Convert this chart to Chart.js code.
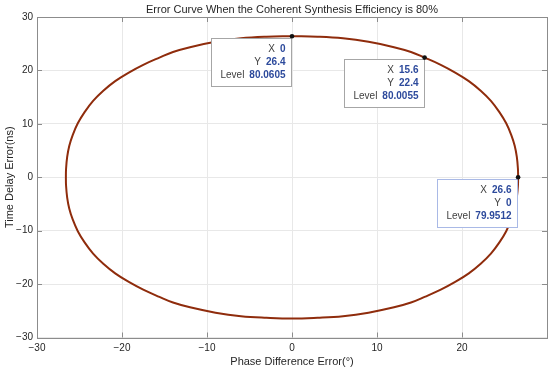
<!DOCTYPE html>
<html>
<head>
<meta charset="utf-8">
<script src="https://cdn.jsdelivr.net/npm/chart.js@4.4.1/dist/chart.umd.min.js"></script>
<style>
  html, body { margin: 0; padding: 0; background: #fff; }
  #wrap { width: 550px; height: 369px; }
</style>
</head>
<body>
<div id="wrap"><canvas id="errChart"></canvas></div>
<script>
// contour of the 80% level (clockwise from the top)
const phaseErr = [0, 3, 6, 9, 12, 14, 15.6, 17.5, 19.2, 20.8, 22.2, 23.4, 24.4, 25.2, 25.8, 26.2, 26.45, 26.58, 26.6,
  26.58, 26.45, 26.2, 25.8, 25.2, 24.4, 23.4, 22.2, 20.8, 19.2, 17.5, 15.6, 14, 12, 9, 6, 3, 0,
  -3, -6, -9, -12, -14, -15.6, -17.5, -19.2, -20.8, -22.2, -23.4, -24.4, -25.2, -25.8, -26.2, -26.45, -26.58, -26.6,
  -26.58, -26.45, -26.2, -25.8, -25.2, -24.4, -23.4, -22.2, -20.8, -19.2, -17.5, -15.6, -14, -12, -9, -6, -3, 0];
const delayErr = [26.4, 26.3, 26.0, 25.35, 24.35, 23.45, 22.4, 21.05, 19.6, 18.0, 16.2, 14.3, 12.2, 10.1, 7.9, 5.9, 3.8, 1.6, 0,
  -1.6, -3.8, -5.9, -7.9, -10.1, -12.2, -14.3, -16.2, -18.0, -19.6, -21.05, -22.4, -23.45, -24.35, -25.35, -26.0, -26.3, -26.45,
  -26.3, -26.0, -25.35, -24.35, -23.45, -22.4, -21.05, -19.6, -18.0, -16.2, -14.3, -12.2, -10.1, -7.9, -5.9, -3.8, -1.6, 0,
  1.6, 3.8, 5.9, 7.9, 10.1, 12.2, 14.3, 16.2, 18.0, 19.6, 21.05, 22.4, 23.45, 24.35, 25.35, 26.0, 26.3, 26.4];

// data tips
const tipX = [0, 15.6, 26.6];
const tipY = [26.4, 22.4, 0];
const tipLevel = ["80.0605", "80.0055", "79.9512"];
const tipActive = [false, false, true];

const xTicks = [-30, -20, -10, 0, 10, 20];
const yTicks = [-30, -20, -10, 0, 10, 20, 30];

const titleText = "Error Curve When the Coherent Synthesis Efficiency is 80%";
const txtColor = "#262626";
const fontName = "'Liberation Sans', Arial, Helvetica, sans-serif";

const curve = phaseErr.map((x, i) => ({ x, y: delayErr[i] }));
const tips = tipX.map((x, i) => ({ x, y: tipY[i] }));

function minus(v) {
  return String(v).replace("-", "\u2212");
}

const framePlugin = {
  id: "frame",
  beforeDatasetsDraw(chart) {
    const { ctx, chartArea: a, scales } = chart;
    ctx.save();
    ctx.strokeStyle = "#8c8c8c";
    ctx.lineWidth = 1;
    ctx.beginPath();
    xTicks.forEach(v => {
      const px = Math.round(scales.x.getPixelForValue(v)) + 0.5;
      ctx.moveTo(px, a.bottom); ctx.lineTo(px, a.bottom - 5);
      ctx.moveTo(px, a.top); ctx.lineTo(px, a.top + 5);
    });
    yTicks.forEach(v => {
      const py = Math.round(scales.y.getPixelForValue(v)) + 0.5;
      ctx.moveTo(a.left, py); ctx.lineTo(a.left + 5, py);
      ctx.moveTo(a.right, py); ctx.lineTo(a.right - 5, py);
    });
    ctx.stroke();
    ctx.strokeRect(Math.round(a.left) + 0.5, Math.round(a.top) + 0.5,
      Math.round(a.right - a.left), Math.round(a.bottom - a.top));
    // title
    ctx.fillStyle = txtColor;
    ctx.font = "11px " + fontName;
    ctx.textAlign = "center";
    ctx.textBaseline = "middle";
    ctx.fillText(titleText, (a.left + a.right) / 2, 10);
    ctx.restore();
  }
};

const tipPlugin = {
  id: "datatips",
  afterDatasetsDraw(chart) {
    const { ctx, scales } = chart;
    ctx.save();
    tipX.forEach((x, i) => {
      const px = scales.x.getPixelForValue(x);
      const py = scales.y.getPixelForValue(tipY[i]);
      const rows = [["X", String(tipX[i])], ["Y", String(tipY[i])], ["Level", tipLevel[i]]];
      const w = 80, h = 48;
      const right = Math.round(px - 1) + 0.5, top = Math.round(py + 1.5) + 0.5;
      ctx.fillStyle = "#fff";
      ctx.fillRect(right - w, top, w, h);
      ctx.strokeStyle = tipActive[i] ? "#a9b9e6" : "#a6a6a6";
      ctx.lineWidth = 1;
      ctx.strokeRect(right - w, top, w, h);
      ctx.textBaseline = "middle";
      ctx.textAlign = "right";
      rows.forEach((r, k) => {
        const ty = top + 10.5 + k * 13.3;
        ctx.font = "bold 10px " + fontName;
        const vw = ctx.measureText(r[1]).width;
        ctx.fillStyle = "#2d4a9c";
        ctx.fillText(r[1], right - 6, ty);
        ctx.font = "10px " + fontName;
        ctx.fillStyle = "#404040";
        ctx.fillText(r[0], right - 6 - vw - 5, ty);
      });
    });
    // the tip markers
    tips.forEach(p => {
      ctx.beginPath();
      ctx.arc(scales.x.getPixelForValue(p.x), scales.y.getPixelForValue(p.y), 2.3, 0, Math.PI * 2);
      ctx.fillStyle = "#111";
      ctx.fill();
    });
    ctx.restore();
  }
};

new Chart(document.getElementById("errChart"), {
  type: "scatter",
  data: {
    datasets: [{
      label: "80% level",
      data: curve,
      showLine: true,
      borderColor: "#8f2c0c",
      borderWidth: 2,
      pointRadius: 0,
      tension: 0.4
    }]
  },
  options: {
    responsive: true,
    maintainAspectRatio: false,
    animation: false,
    layout: { padding: { top: 17, right: 3, left: 0, bottom: 0 } },
    plugins: { legend: { display: false }, tooltip: { enabled: false }, title: { display: false } },
    scales: {
      x: {
        type: "linear", min: -30, max: 30,
        afterBuildTicks: s => { s.ticks = xTicks.map(v => ({ value: v })); },
        afterFit: s => { s.height = 31.5; },
        grid: { color: "#e8e8e8", drawTicks: false },
        border: { display: false },
        ticks: { padding: 5, color: txtColor, font: { size: 10, family: fontName }, callback: v => minus(v) },
        title: { display: true, text: "Phase Difference Error(\u00b0)", color: txtColor,
          font: { size: 11, family: fontName }, padding: { top: 0, bottom: 0 } }
      },
      y: {
        type: "linear", min: -30, max: 30,
        afterBuildTicks: s => { s.ticks = yTicks.map(v => ({ value: v })); },
        afterFit: s => { s.width = 37; },
        grid: { color: "#e8e8e8", drawTicks: false },
        border: { display: false },
        ticks: { padding: 4, color: txtColor, font: { size: 10, family: fontName }, callback: v => minus(v) },
        title: { display: true, text: "Time Delay Error(ns)", color: txtColor,
          font: { size: 11, family: fontName }, padding: { top: 3.5, bottom: 0 } }
      }
    }
  },
  plugins: [framePlugin, tipPlugin]
});
</script>
</body>
</html>
